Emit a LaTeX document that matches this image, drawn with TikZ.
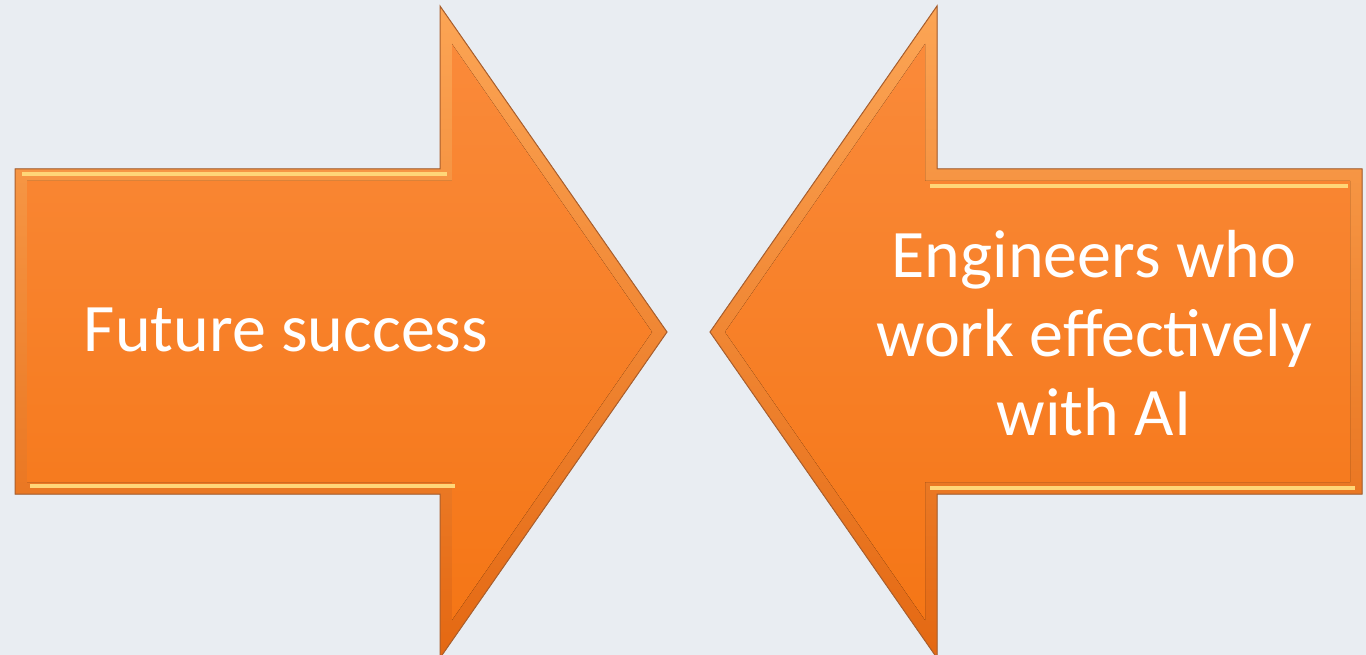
\documentclass[tikz,border=0pt]{standalone}
\usepackage{fontspec}
\setmainfont{Carlito}
\usetikzlibrary{positioning}

\definecolor{bgblue}{RGB}{233,237,242}
\definecolor{arrowtop}{RGB}{250,138,58}
\definecolor{arrowbot}{RGB}{245,118,22}
\definecolor{arrowedge}{RGB}{170,95,45}
\definecolor{rimtop}{RGB}{252,165,85}
\definecolor{rimbot}{RGB}{228,104,18}
\definecolor{glint}{RGB}{255,214,120}

\tikzset{
  arrowshape/.style={draw=arrowedge, line width=1pt, top color=rimtop, bottom color=rimbot},
  arrowface/.style={top color=arrowtop, bottom color=arrowbot},
  glintline/.style={glint, line width=4pt},
  arrowtext/.style={text=white, align=center, font=\fontsize{68}{79}\selectfont}
}

\begin{document}
\begin{tikzpicture}[x=1pt, y=-1pt]
\useasboundingbox[fill=bgblue] (0,0) rectangle (1366,655);

% left arrow
\fill[arrowshape] (15,169) -- (440,169) -- (440,6) -- (667,332) -- (440,658) -- (440,494) -- (15,494) -- cycle;
\fill[arrowface] (27,181) -- (452,181) -- (452,44) -- (652,332) -- (452,620) -- (452,482) -- (27,482) -- cycle;
\draw[glintline] (22,174) -- (447,174);
\draw[glintline] (30,486) -- (455,486);

% right arrow
\fill[arrowshape] (1362,169) -- (937,169) -- (937,6) -- (710,332) -- (937,658) -- (937,494) -- (1362,494) -- cycle;
\fill[arrowface] (1350,181) -- (925,181) -- (925,44) -- (725,332) -- (925,620) -- (925,482) -- (1350,482) -- cycle;
\draw[glintline] (930,186) -- (1348,186);
\draw[glintline] (930,488) -- (1355,488);

\node[arrowtext] (future) at (286,330) {Future success};
\node[arrowtext] (engineers) at (1094,333) {Engineers who\\work effectively\\with AI};
\end{tikzpicture}
\end{document}
